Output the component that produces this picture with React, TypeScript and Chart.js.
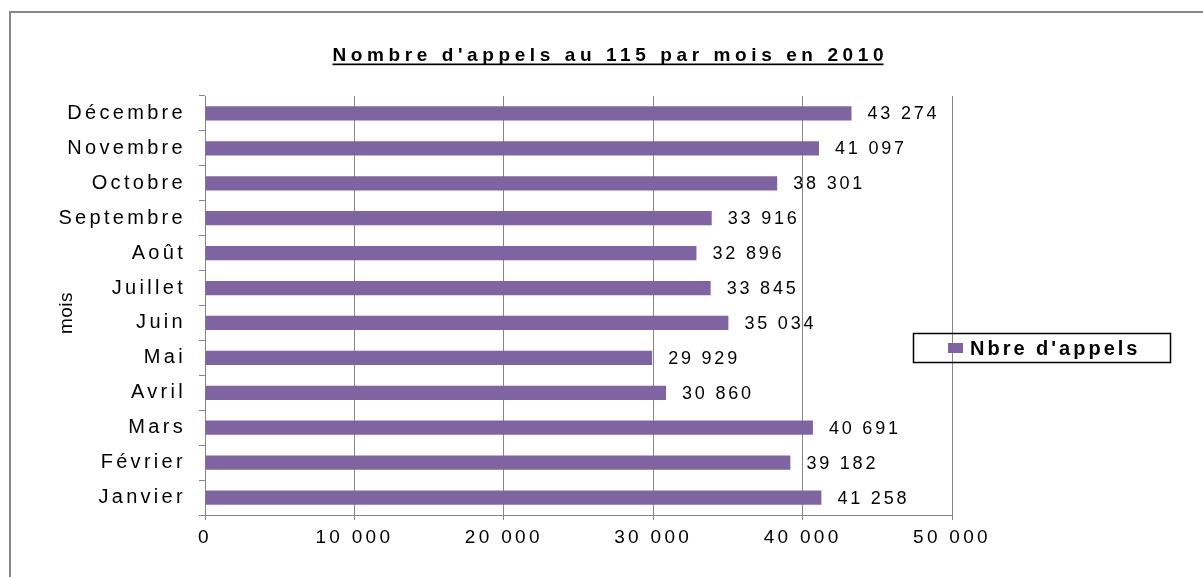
import React, { useEffect, useRef } from "react";
import { Chart, registerables } from "chart.js";

Chart.register(...registerables);

const months = [
  "Janvier", "Février", "Mars", "Avril", "Mai", "Juin",
  "Juillet", "Août", "Septembre", "Octobre", "Novembre", "Décembre",
];
const calls = [41258, 39182, 40691, 30860, 29929, 35034, 33845, 32896, 33916, 38301, 41097, 43274];
const xTicks = [0, 10000, 20000, 30000, 40000, 50000];
const seriesName = "Nbre d'appels";
const chartTitle = "Nombre d'appels au 115 par mois en 2010";
const yTitle = "mois";

const BAR = "#8064A2";
const GRID = "#868686";
const FONT = "'Liberation Sans', Arial, sans-serif";

const fmt = (v: number) => {
  const s = String(Math.round(v));
  return s.replace(/\B(?=(\d{3})+(?!\d))/g, " ");
};

export default function App() {
  const ref = useRef<HTMLCanvasElement | null>(null);
  useEffect(() => {
    const canvas = ref.current!;
    const deco = {
      id: "deco",
      beforeDraw(chart: any) {
        const ctx = chart.ctx;
        ctx.fillStyle = "#ffffff";
        ctx.fillRect(0, 0, chart.width, chart.height);
        (ctx as any).letterSpacing = "3.3px";
      },
      afterDraw(chart: any) {
        const ctx = chart.ctx;
        ctx.save();
        // outer border
        ctx.strokeStyle = GRID;
        ctx.lineWidth = 2;
        ctx.beginPath();
        ctx.moveTo(10, chart.height + 5);
        ctx.lineTo(10, 12);
        ctx.lineTo(chart.width + 5, 12);
        ctx.stroke();

        // title
        const tsp = 4.6;
        (ctx as any).letterSpacing = `${tsp}px`;
        ctx.font = `bold 19px ${FONT}`;
        ctx.fillStyle = "#000";
        ctx.textAlign = "left";
        ctx.textBaseline = "alphabetic";
        const tw = ctx.measureText(chartTitle).width - tsp;
        const tx = 608 - tw / 2;
        ctx.fillText(chartTitle, tx, 61);
        ctx.fillRect(tx, 63.5, tw, 1.7);

        // y title
        (ctx as any).letterSpacing = "0.5px";
        ctx.save();
        ctx.translate(72, 313);
        ctx.rotate(-Math.PI / 2);
        ctx.font = `19px ${FONT}`;
        ctx.textAlign = "center";
        ctx.textBaseline = "alphabetic";
        ctx.fillText(yTitle, 0, 0);
        ctx.restore();

        // data labels
        const meta = chart.getDatasetMeta(0);
        (ctx as any).letterSpacing = "2.8px";
        ctx.font = `18px ${FONT}`;
        ctx.textAlign = "left";
        ctx.textBaseline = "middle";
        meta.data.forEach((bar: any, i: number) => {
          ctx.fillText(fmt(calls[i]), bar.x + 16, bar.y + 1);
        });

        // legend
        ctx.strokeStyle = "#000";
        ctx.lineWidth = 1.5;
        ctx.strokeRect(913.5, 333.5, 257, 29);
        ctx.fillStyle = BAR;
        ctx.fillRect(948, 343, 15, 10);
        ctx.fillStyle = "#000";
        (ctx as any).letterSpacing = "3px";
        ctx.font = `bold 20px ${FONT}`;
        ctx.textBaseline = "middle";
        ctx.fillText(seriesName, 970, 349);
        ctx.restore();
      },
    };

    const chart = new Chart(canvas, {
      type: "bar",
      data: {
        labels: months,
        datasets: [
          {
            label: seriesName,
            data: calls,
            backgroundColor: BAR,
            borderWidth: 0,
            categoryPercentage: 1,
            barPercentage: 0.41,
          },
        ],
      },
      options: {
        indexAxis: "y",
        animation: false,
        responsive: false,
        maintainAspectRatio: false,
        layout: { padding: { left: 0, top: 96, right: 251, bottom: 22 } },
        plugins: {
          legend: { display: false },
          title: { display: false },
          tooltip: { enabled: false },
        },
        scales: {
          x: {
            min: 0,
            max: 50000,
            afterFit(scale: any) {
              scale.height = 40;
            },
            afterBuildTicks(scale: any) {
              scale.ticks = xTicks.map((v) => ({ value: v }));
            },
            ticks: {
              color: "#000",
              font: { family: FONT, size: 19 },
              padding: 6,
              callback: (v: any) => fmt(Number(v)),
            },
            grid: {
              color: GRID,
              lineWidth: 1,
              tickLength: 5,
              drawOnChartArea: true,
            },
            border: { color: GRID, width: 1 },
          },
          y: {
            reverse: true,
            afterFit(scale: any) {
              scale.width = 205;
            },
            ticks: {
              color: "#000",
              font: { family: FONT, size: 20 },
              padding: 13,
            },
            grid: {
              color: GRID,
              lineWidth: 1,
              tickLength: 6,
              drawOnChartArea: false,
              offset: true,
            },
            border: { color: GRID, width: 1 },
          },
        },
      },
      plugins: [deco],
    } as any);
    return () => chart.destroy();
  }, []);

  return (
    <div style={{ position: "fixed", left: 0, top: 0, width: 1203, height: 577, background: "#fff" }}>
      <canvas ref={ref} width={1203} height={577} style={{ display: "block", width: 1203, height: 577 }} />
    </div>
  );
}
